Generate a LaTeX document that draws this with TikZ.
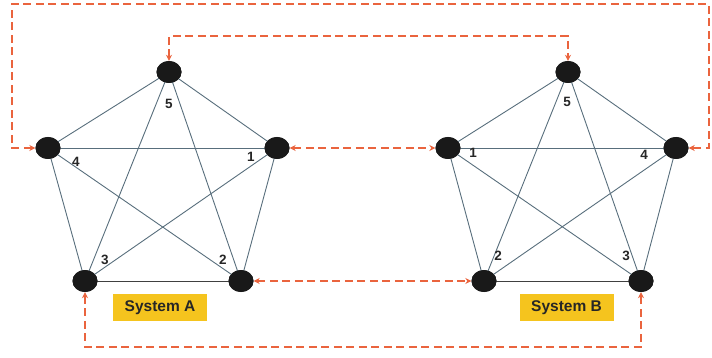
\documentclass[tikz,border=0pt]{standalone}
\usepackage{fontspec}
\setmainfont{Liberation Sans}
\usetikzlibrary{arrows.meta,shapes.geometric}
\definecolor{linkorange}{RGB}{234,100,62}
\definecolor{edgegray}{RGB}{88,110,124}
\definecolor{boxyellow}{RGB}{245,196,30}
\tikzset{
  dot/.style={ellipse,fill=black!90,minimum width=25pt,minimum height=22pt,inner sep=0pt},
  edge/.style={draw=edgegray,line width=0.9pt},
  link/.style={draw=linkorange,line width=1.6pt,dash pattern=on 8pt off 4.5pt,
    {Stealth[length=6pt,width=6pt,fill=linkorange]}-{Stealth[length=6pt,width=6pt,fill=linkorange]}},
  num/.style={font=\bfseries\fontsize{13.5}{13.5}\selectfont,text=black!85,inner sep=0pt},
  sysbox/.style={fill=boxyellow,minimum width=94pt,minimum height=27pt,inner sep=0pt,
    font=\bfseries\fontsize{15.5}{15.5}\selectfont,text=black!85}
}
\begin{document}
\begin{tikzpicture}[x=1pt,y=-1pt]
\useasboundingbox (0,0) rectangle (712,358);
% System A
\node[dot] (a5) at (169,72) {};
\node[dot] (a4) at (48,148) {};
\node[dot] (a1) at (277,148) {};
\node[dot] (a3) at (85,281) {};
\node[dot] (a2) at (241,281) {};
% System B
\node[dot] (b5) at (568,72) {};
\node[dot] (b1) at (448,148) {};
\node[dot] (b4) at (676,148) {};
\node[dot] (b2) at (484,281) {};
\node[dot] (b3) at (641,281) {};
% edges
\foreach \u/\v in {a5/a4,a5/a1,a5/a3,a5/a2,a4/a1,a4/a3,a4/a2,a1/a3,a1/a2,
                   b5/b1,b5/b4,b5/b2,b5/b3,b1/b4,b1/b2,b1/b3,b4/b2,b4/b3}
  \path[edge] (\u.center) -- (\v.center);
\path[edge,draw=black!75] (a3.center) -- (a2.center);
\path[edge,draw=black!75] (b2.center) -- (b3.center);
% dots on top of the edges
\foreach \n in {a5,a4,a1,a3,a2,b5,b1,b4,b2,b3}
  \fill[black!90] (\n.center) ellipse (12.5pt and 11pt);
% number labels
\node[num] (la5) at (169,104) {5};
\node[num] (la4) at (76,162) {4};
\node[num] (la1) at (251,157) {1};
\node[num] (la3) at (105,260) {3};
\node[num] (la2) at (223,260) {2};
\node[num] (lb5) at (567,102) {5};
\node[num] (lb1) at (473,153) {1};
\node[num] (lb4) at (644,155) {4};
\node[num] (lb2) at (498,256) {2};
\node[num] (lb3) at (626,256) {3};
% system labels
\node[sysbox] (sa) at (160,307.5) {System A};
\node[sysbox] (sb) at (566.5,307.5) {System B};
% links
\coordinate (t1) at (169,36);
\coordinate (t2) at (568,36);
\draw[link] (a5.north) -- (t1) -- (t2) -- (b5.north);
\coordinate (o1) at (12,148);
\coordinate (o2) at (12,4);
\coordinate (o3) at (709,4);
\coordinate (o4) at (709,148);
\draw[link] (a4.west) -- (o1) -- (o2) -- (o3) -- (o4) -- (b4.east);
\draw[link] (a1.east) -- (b1.west);
\draw[link] (a2.east) -- (b2.west);
\coordinate (u1) at (85,347);
\coordinate (u2) at (641,347);
\draw[link] (a3.south) -- (u1) -- (u2) -- (b3.south);
\end{tikzpicture}
\end{document}
